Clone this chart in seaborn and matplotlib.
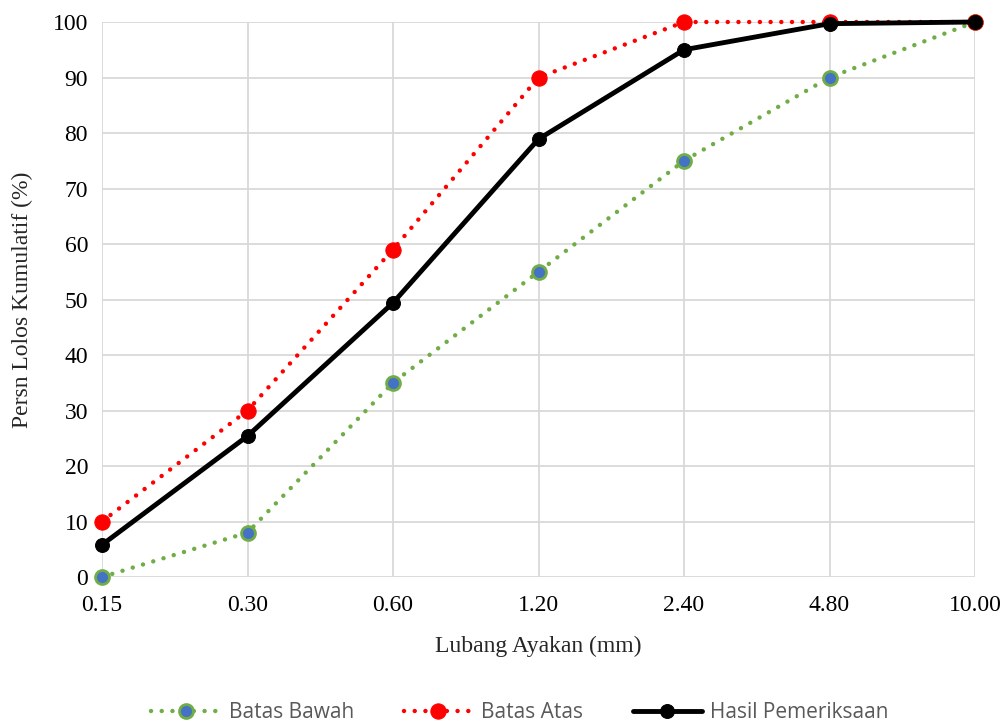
import matplotlib
matplotlib.use("Agg")
import matplotlib.pyplot as plt
import seaborn as sns
import numpy as np
import pandas as pd

sieve_labels = ["0.15", "0.30", "0.60", "1.20", "2.40", "4.80", "10.00"]
batas_bawah = [0, 8, 35, 55, 75, 90, 100]
batas_atas = [10, 30, 59, 90, 100, 100, 100]
hasil = [5.8, 25.4, 49.4, 78.9, 95.0, 99.7, 100]

sns.set_theme(style="white")
plt.rcParams["font.family"] = ["Liberation Serif", "DejaVu Serif"]

fig = plt.figure(figsize=(10.08, 7.24), dpi=100)
ax = fig.add_axes([102/1008, 1-577/724, (975-102)/1008, (577-22)/724])

pos = np.arange(len(sieve_labels))
df = pd.DataFrame({"pos": pos, "bawah": batas_bawah, "atas": batas_atas, "hasil": hasil})

dot = (0, (0.01, 2.4))
sns.lineplot(data=df, x="pos", y="bawah", ax=ax, color="#70AD47", linewidth=3.2,
             linestyle=dot, dash_capstyle="round", marker="o", markersize=10,
             markerfacecolor="#4472C4", markeredgecolor="#70AD47", markeredgewidth=2,
             label="Batas Bawah", zorder=3, clip_on=False)
sns.lineplot(data=df, x="pos", y="atas", ax=ax, color="#FF0000", linewidth=3.2,
             linestyle=dot, dash_capstyle="round", marker="o", markersize=11,
             markerfacecolor="#FF0000", markeredgecolor="#FF0000",
             label="Batas Atas", zorder=4, clip_on=False)
sns.lineplot(data=df, x="pos", y="hasil", ax=ax, color="black", linewidth=3.5,
             marker="o", markersize=10, markerfacecolor="black", markeredgecolor="black",
             label="Hasil Pemeriksaan", zorder=5, clip_on=False)

ax.set_xlim(0, len(sieve_labels) - 1)
ax.set_ylim(0, 100)
ax.set_xticks(pos)
ax.set_xticklabels(sieve_labels)
ax.set_yticks(np.arange(0, 101, 10))
ax.grid(True, color="#D9D9D9", linewidth=1.3)
for s in ax.spines.values():
    s.set_visible(False)
ax.tick_params(axis="both", length=0, labelsize=17, colors="black")
ax.tick_params(axis="x", pad=13)
ax.tick_params(axis="y", pad=10)
ax.set_xlabel("Lubang Ayakan (mm)", fontsize=17, labelpad=14)
ax.set_ylabel("Persn Lolos Kumulatif (%)", fontsize=17, labelpad=14)

leg = ax.legend(loc="center", bbox_to_anchor=(520/1008, 1-713/724), bbox_transform=fig.transFigure,
                ncol=3, frameon=False, handlelength=3.3, columnspacing=2.4, handletextpad=0.4,
                prop={"family": "Open Sans", "size": 15})
for t in leg.get_texts():
    t.set_color("#595959")

fig.savefig("out.png", dpi=100)
